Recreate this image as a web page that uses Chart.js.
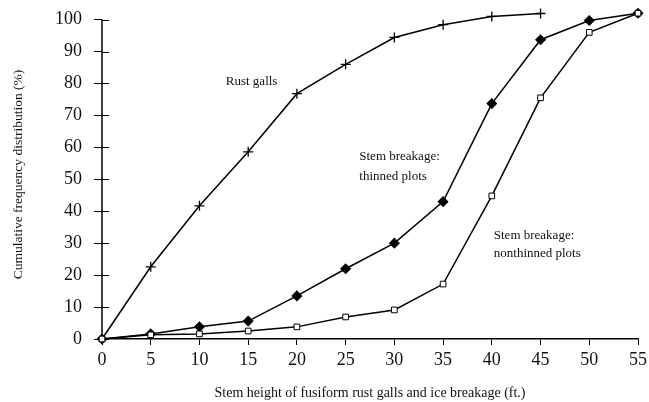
<!DOCTYPE html>
<html>
<head>
<meta charset="utf-8">
<script src="https://cdn.jsdelivr.net/npm/chart.js@4"></script>
<style>
  html, body { margin: 0; padding: 0; background: #fff; }
  #wrap { width: 649px; height: 402px; position: relative; }
</style>
</head>
<body>
<div id="wrap"><canvas id="cfdChart"></canvas></div>
<script>
// data
const heights = [0, 5, 10, 15, 20, 25, 30, 35, 40, 45, 50, 55]
const rustGalls = [0, 22.6, 41.7, 58.6, 76.8, 86, 94.4, 98.4, 101, 101.9, null, null]
const thinned = [0, 1.6, 3.8, 5.6, 13.5, 22, 30, 43, 73.7, 93.7, 99.7, 102]
const nonthinned = [0, 1.3, 1.6, 2.5, 3.8, 6.9, 9.1, 17.2, 44.8, 75.5, 96, 102]
const yTicks = [0, 10, 20, 30, 40, 50, 60, 70, 80, 90, 100]

// text labels inside the plot (x, y in data units)
const notes = [
    { text: 'Rust galls', x: 12.7, y: 80.6 },
    { text: 'Stem breakage:', x: 26.4, y: 57 },
    { text: 'thinned plots', x: 26.4, y: 51 },
    { text: 'Stem breakage:', x: 40.2, y: 32.3 },
    { text: 'nonthinned plots', x: 40.2, y: 26.6 }
]

const serif = "'Liberation Serif', 'DejaVu Serif', serif"

const toXY = (arr) => arr.map((v, i) => v === null ? null : { x: heights[i], y: v }).filter(p => p)

//axis line up to 100, ticks crossing it, and the notes
const notePlugin = {
    id: 'notes',
    beforeDatasetsDraw(chart) {
        const { ctx, scales } = chart
        const x0 = Math.round(scales.x.getPixelForValue(0))
        ctx.save()
        ctx.strokeStyle = '#000'
        ctx.lineWidth = 1.5
        ctx.beginPath()
        ctx.moveTo(x0, scales.y.getPixelForValue(0))
        ctx.lineTo(x0, scales.y.getPixelForValue(100))
        ctx.stroke()
        ctx.lineWidth = 1
        yTicks.forEach(t => {
            const py = Math.round(scales.y.getPixelForValue(t)) + 0.5
            ctx.beginPath()
            ctx.moveTo(x0, py)
            ctx.lineTo(x0 + 7, py)
            ctx.stroke()
        })
        ctx.restore()
    },
    afterDatasetsDraw(chart) {
        const { ctx, scales } = chart
        ctx.save()
        ctx.fillStyle = '#111'
        ctx.font = '13px ' + serif
        ctx.textBaseline = 'middle'
        ctx.textAlign = 'left'
        notes.forEach(n => {
            ctx.fillText(n.text, scales.x.getPixelForValue(n.x), scales.y.getPixelForValue(n.y))
        })
        ctx.restore()
    }
}

const ctx = document.getElementById('cfdChart').getContext('2d')
const myChart = new Chart(ctx, {
    type: 'line',
    data: {
        datasets: [{
            label: 'Rust galls',
            data: toXY(rustGalls),
            borderColor: '#000',
            borderWidth: 1.5,
            pointStyle: 'cross',
            pointRadius: 5,
            pointBorderWidth: 1.3,
            pointBorderColor: '#000',
            tension: 0,
            clip: false,
            order: 3
        }, {
            label: 'Stem breakage: thinned plots',
            data: toXY(thinned),
            borderColor: '#000',
            borderWidth: 1.5,
            pointStyle: 'rectRot',
            pointRadius: 4.5,
            pointBackgroundColor: '#000',
            pointBorderColor: '#000',
            tension: 0,
            clip: false,
            order: 2
        }, {
            label: 'Stem breakage: nonthinned plots',
            data: toXY(nonthinned),
            borderColor: '#000',
            borderWidth: 1.5,
            pointStyle: 'rect',
            pointRadius: 4,
            pointBackgroundColor: '#fff',
            pointBorderColor: '#000',
            pointBorderWidth: 1,
            tension: 0,
            clip: false,
            order: 1
        }]
    },
    options: {
        responsive: true,
        maintainAspectRatio: false,
        animation: false,
        layout: { padding: { top: 10, right: 11, left: 0, bottom: 0 } },
        plugins: {
            legend: { display: false },
            tooltip: { enabled: false }
        },
        scales: {
            x: {
                type: 'linear',
                min: 0,
                max: 55,
                afterFit: (s) => { s.height = 63; s.paddingLeft = 0; s.paddingRight = 0 },
                ticks: {
                    stepSize: 5,
                    color: '#111',
                    font: { family: serif, size: 18 },
                    padding: 4
                },
                grid: {
                    drawOnChartArea: false,
                    color: '#000',
                    tickLength: 6,
                    tickColor: '#000'
                },
                border: { color: '#000', width: 1.5 },
                title: {
                    display: true,
                    text: 'Stem height of fusiform rust galls and ice breakage (ft.)',
                    color: '#111',
                    font: { family: serif, size: 14 },
                    padding: { top: 1, bottom: 0 }
                }
            },
            y: {
                min: 0,
                max: 103,
                afterFit: (s) => { s.width = 102; s.paddingTop = 0; s.paddingBottom = 0 },
                afterBuildTicks: (s) => { s.ticks = yTicks.map(v => ({ value: v })) },
                ticks: {
                    color: '#111',
                    font: { family: serif, size: 18 },
                    padding: 12
                },
                grid: {
                    drawOnChartArea: false,
                    color: '#000',
                    tickLength: 8,
                    tickColor: '#000'
                },
                border: { display: false },
                title: {
                    display: true,
                    text: 'Cumulative frequency distribution (%)',
                    color: '#111',
                    font: { family: serif, size: 13.5 },
                    padding: { top: 10, bottom: 0 }
                }
            }
        }
    },
    plugins: [notePlugin]
})
</script>
</body>
</html>
